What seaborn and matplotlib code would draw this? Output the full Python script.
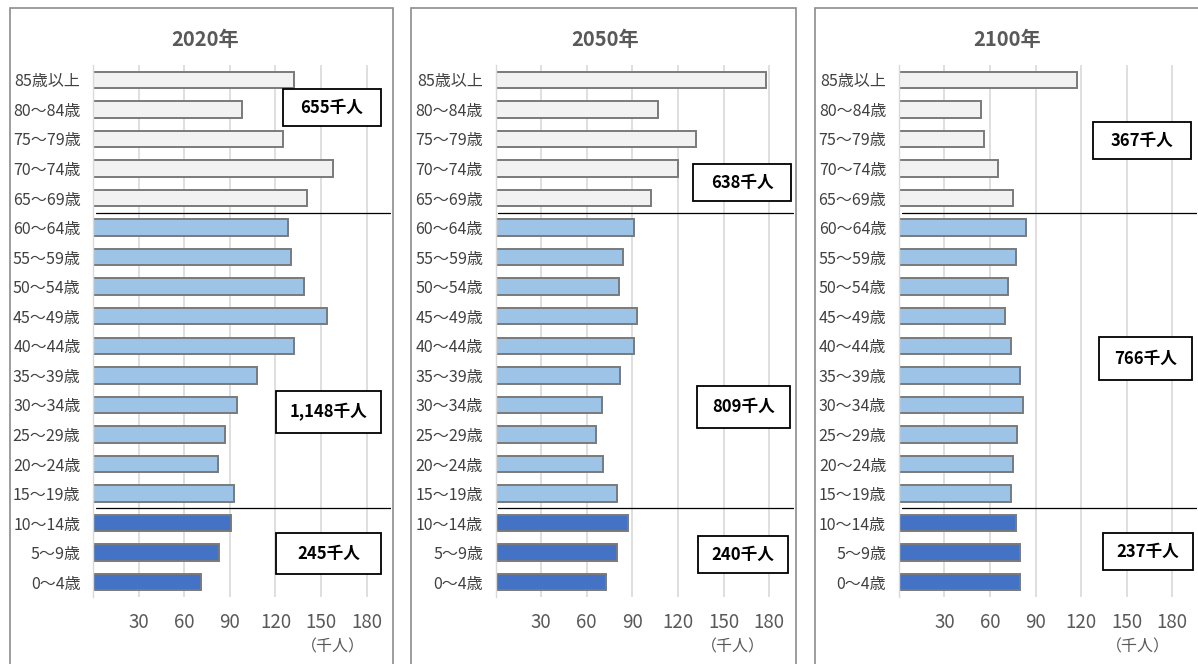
import matplotlib
matplotlib.use("Agg")
import matplotlib.pyplot as plt
import matplotlib.patches as mpatches
import numpy as np
import pandas as pd
import seaborn as sns

# age groups, top to bottom
ages = ["85歳以上", "80～84歳", "75～79歳", "70～74歳", "65～69歳",
        "60～64歳", "55～59歳", "50～54歳", "45～49歳", "40～44歳",
        "35～39歳", "30～34歳", "25～29歳", "20～24歳", "15～19歳",
        "10～14歳", "5～9歳", "0～4歳"]
years = ["2020年", "2050年", "2100年"]

# population (thousand people)
pop_2020 = [132, 98, 125, 158, 141, 128, 130, 139, 154, 132, 108, 95, 87, 82, 93, 91, 83, 71]
pop_2050 = [178, 107, 132, 120, 102, 91, 84, 81, 93, 91, 82, 70, 66, 71, 80, 87, 80, 73]
pop_2100 = [117, 54, 56, 65, 75, 84, 77, 72, 70, 74, 80, 82, 78, 75, 74, 77, 80, 80]

totals_2020 = ["655千人", "1,148千人", "245千人"]
totals_2050 = ["638千人", "809千人", "240千人"]
totals_2100 = ["367千人", "766千人", "237千人"]

x_ticks = [30, 60, 90, 120, 150, 180]
unit_label = "（千人）"

bar_colors = ["#F2F2F2"] * 5 + ["#9DC3E6"] * 10 + ["#4472C4"] * 3

W, H = 1198, 664

# layout in pixels
axes_left = [93, 495.5, 898.7]
axes_w = 298
axes_top, axes_bottom = 65, 597
frames = [(9.5, 393), (411, 795.5), (815, 1215)]
title_x = [205, 605, 1007]
unit_x = [333, 733, 1138]
boxes = [
    [(283, 381, 89, 126), (276, 381, 391, 433), (276, 381, 533, 574)],
    [(693, 791, 164, 201), (697, 790, 386, 428), (698, 788, 536, 573)],
    [(1093, 1191, 122, 159), (1099, 1192, 337, 380), (1103, 1193, 533, 570)],
]

sns.set_style("white")
plt.rcParams["font.family"] = ["Noto Sans CJK JP", "DejaVu Sans"]

fig = plt.figure(figsize=(W / 100, H / 100), dpi=100)


def fx(px):
    return px / W


def fy(py):
    return 1 - py / H


all_pops = [pop_2020, pop_2050, pop_2100]
all_totals = [totals_2020, totals_2050, totals_2100]

for i, (year, pops, totals) in enumerate(zip(years, all_pops, all_totals)):
    # panel frame
    x0, x1 = frames[i]
    fig.patches.append(mpatches.Rectangle(
        (fx(x0), fy(H + 20)), fx(x1 - x0), (H + 20 - 8.5) / H,
        transform=fig.transFigure, fill=False, edgecolor="#8C8C8C", lw=1.2, zorder=0))

    ax = fig.add_axes([fx(axes_left[i]), fy(axes_bottom), fx(axes_w),
                       (axes_bottom - axes_top) / H])
    df = pd.DataFrame({"age": ages, "pop": pops})
    sns.barplot(data=df, x="pop", y="age", hue="age", order=ages, hue_order=ages,
                palette=bar_colors, legend=False, width=0.56, saturation=1,
                edgecolor="#7A7A7A", linewidth=1.4, ax=ax)
    ax.set_xlim(0, 196)
    ax.set_ylim(len(ages) - 0.5, -0.5)
    ax.set_xticks(x_ticks)
    ax.set_yticks(np.arange(-0.5, len(ages)), minor=True)
    ax.xaxis.grid(True, color="#D9D9D9", lw=1.2)
    ax.set_axisbelow(True)
    for s in ["top", "right", "bottom"]:
        ax.spines[s].set_visible(False)
    ax.spines["left"].set_color("#D9D9D9")
    ax.spines["left"].set_linewidth(1.0)
    ax.tick_params(axis="x", length=0, pad=11, labelsize=13.5, labelcolor="#595959")
    ax.tick_params(axis="y", which="major", length=0, pad=9, labelsize=11.5,
                   labelcolor="#404040")
    ax.tick_params(axis="y", which="minor", length=3, color="#D9D9D9", width=1)
    ax.set_xlabel("")
    ax.set_ylabel("")

    # group dividers
    ax.axhline(4.5, xmin=0.01, xmax=1, color="black", lw=0.9)
    ax.axhline(14.5, xmin=0.01, xmax=1, color="black", lw=0.9)

    fig.text(fx(title_x[i]), fy(39), year, ha="center", va="center",
             fontsize=14.5, fontweight="bold", color="#595959")
    fig.text(fx(unit_x[i]), fy(647), unit_label, ha="center", va="center",
             fontsize=11.5, color="#595959")

    for (bx0, bx1, by0, by1), label in zip(boxes[i], totals):
        fig.patches.append(mpatches.Rectangle(
            (fx(bx0), fy(by1)), fx(bx1 - bx0), (by1 - by0) / H,
            transform=fig.transFigure, facecolor="white", edgecolor="black",
            lw=1.3, zorder=3))
        fig.text(fx((bx0 + bx1) / 2), fy((by0 + by1) / 2), label, ha="center",
                 va="center", fontsize=12, fontweight="bold", color="black", zorder=4)

fig.savefig("out.png", dpi=100)
